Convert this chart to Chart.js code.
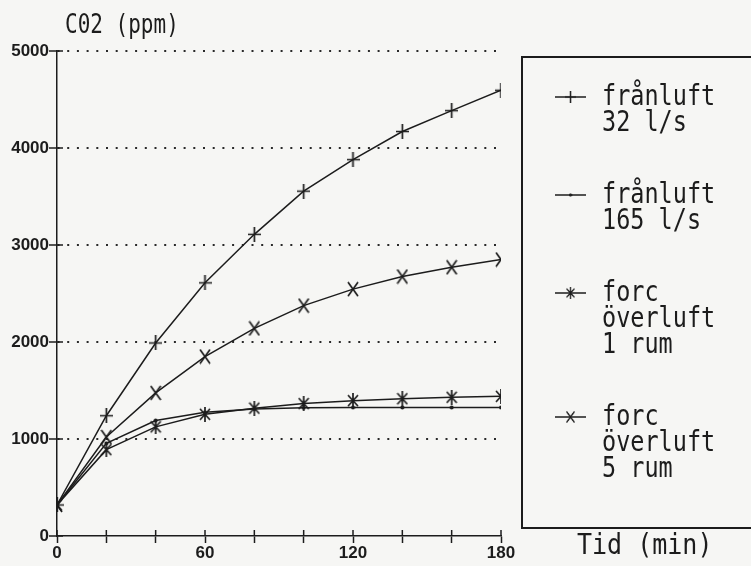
<!DOCTYPE html>
<html>
<head>
<meta charset="utf-8">
<script src="https://cdn.jsdelivr.net/npm/chart.js@4/dist/chart.umd.min.js"></script>
<style>
  html, body { margin: 0; padding: 0; background: #f6f6f4; }
  #wrap { width: 751px; height: 566px; }
</style>
</head>
<body>
<div id="wrap"><canvas id="co2-chart" width="751" height="566"></canvas></div>
<script>
// CO2 concentration over time, four ventilation cases

const minutes = [0, 20, 40, 60, 80, 100, 120, 140, 160, 180];

const franluft32 = [320, 1240, 1990, 2610, 3110, 3555, 3880, 4170, 4385, 4595];
const franluft165 = [320, 955, 1190, 1275, 1310, 1322, 1325, 1325, 1325, 1325];
const forcRum1 = [320, 890, 1125, 1255, 1318, 1365, 1395, 1415, 1430, 1440];
const forcRum5 = [320, 1020, 1475, 1850, 2140, 2375, 2545, 2675, 2770, 2850];

const seriesLabels = [
    ['frånluft', '32 l/s'],
    ['frånluft', '165 l/s'],
    ['forc', 'överluft', '1 rum'],
    ['forc', 'överluft', '5 rum']
];

const yTicks = [0, 1000, 2000, 3000, 4000, 5000];
const xLabelTicks = [0, 60, 120, 180];

const INK = '#1c1c1c';
const MONO = '"DejaVu Sans Mono", monospace';

// small marker glyphs drawn once on canvases
function makeMarker(w, h, drawFn) {
    const c = document.createElement('canvas');
    c.width = w; c.height = h;
    const g = c.getContext('2d');
    g.strokeStyle = INK;
    g.lineWidth = 1.7;
    g.beginPath();
    drawFn(g, w, h);
    g.stroke();
    return c;
}

const plusMark = makeMarker(13, 15, (g, w, h) => {
    g.moveTo(w / 2, 0); g.lineTo(w / 2, h);
    g.moveTo(0, h / 2); g.lineTo(w, h / 2);
});
const xMark = makeMarker(12, 16, (g, w, h) => {
    g.moveTo(1, 1); g.lineTo(w - 1, h - 1);
    g.moveTo(w - 1, 1); g.lineTo(1, h - 1);
});
const starMark = makeMarker(12, 15, (g, w, h) => {
    g.moveTo(1, 2); g.lineTo(w - 1, h - 2);
    g.moveTo(w - 1, 2); g.lineTo(1, h - 2);
    g.moveTo(w / 2, 0); g.lineTo(w / 2, h);
});
const dotMark = makeMarker(5, 5, (g, w, h) => {
    g.arc(w / 2, h / 2, 1.2, 0, Math.PI * 2);
});

function toPoints(values) {
    return values.map((v, i) => ({ x: minutes[i], y: v }));
}

// text in a tall, narrow plotter style
function tallText(ctx, text, x, y, stretch) {
    ctx.save();
    ctx.translate(x, y);
    ctx.scale(1, stretch);
    ctx.fillText(text, 0, 0);
    ctx.restore();
}

// tick marks that cross the axes, and the legend box + axis captions
const plotterDecor = {
    id: 'plotterDecor',
    afterDraw(chart) {
        const ctx = chart.ctx;
        const xs = chart.scales.x;
        const ys = chart.scales.y;
        const area = chart.chartArea;
        ctx.save();
        ctx.strokeStyle = INK;
        ctx.lineWidth = 1.5;
        ctx.beginPath();
        xs.ticks.forEach(t => {
            const px = xs.getPixelForValue(t.value);
            ctx.moveTo(px, area.bottom);
            ctx.lineTo(px, area.bottom - 6);
        });
        ys.ticks.forEach(t => {
            const py = ys.getPixelForValue(t.value);
            ctx.moveTo(area.left, py);
            ctx.lineTo(area.left + 6, py);
        });
        ctx.stroke();

        // captions
        ctx.fillStyle = INK;
        ctx.textBaseline = 'middle';
        ctx.textAlign = 'left';
        ctx.font = '21px ' + MONO;
        tallText(ctx, 'C02 (ppm)', 65, 26, 1.25);
        ctx.font = '25px ' + MONO;
        tallText(ctx, 'Tid (min)', 577, 547, 1.15);

        // legend box
        ctx.lineWidth = 2;
        ctx.strokeRect(522, 57, 260, 471);

        const marks = [plusMark, dotMark, starMark, xMark];
        let y = 97;
        const lineH = 26;
        ctx.font = '23.5px ' + MONO;
        chart.data.datasets.forEach((ds, i) => {
            ctx.beginPath();
            ctx.lineWidth = 1.5;
            ctx.moveTo(555, y);
            ctx.lineTo(586, y);
            ctx.stroke();
            const m = marks[i];
            const mw = m.width * 0.8, mh = m.height * 0.8;
            ctx.drawImage(m, 570.5 - mw / 2, y - mh / 2, mw, mh);
            ds.label.forEach((line, k) => {
                tallText(ctx, line, 602, y + 1 + k * lineH, 1.2);
            });
            y += (ds.label.length - 1) * lineH + 72;
        });
        ctx.restore();
    }
};

const tickFont = { family: '"Liberation Sans", Arial, sans-serif', size: 17, weight: 'bold' };

const ctx = document.getElementById('co2-chart').getContext('2d');
new Chart(ctx, {
    type: 'line',
    data: {
        datasets: [
            { label: seriesLabels[0], data: toPoints(franluft32), pointStyle: plusMark },
            { label: seriesLabels[1], data: toPoints(franluft165), pointStyle: dotMark },
            { label: seriesLabels[2], data: toPoints(forcRum1), pointStyle: starMark },
            { label: seriesLabels[3], data: toPoints(forcRum5), pointStyle: xMark }
        ].map(ds => Object.assign(ds, {
            borderColor: INK,
            borderWidth: 1.5,
            tension: 0,
            fill: false
        }))
    },
    options: {
        responsive: false,
        animation: false,
        layout: { padding: { top: 51, right: 250, left: 0, bottom: 0 } },
        plugins: {
            legend: { display: false },
            tooltip: { enabled: false }
        },
        scales: {
            x: {
                type: 'linear',
                min: 0,
                max: 180,
                afterBuildTicks: (s) => { s.ticks = minutes.map(v => ({ value: v })); },
                afterFit: (s) => { s.height = 30; },
                border: { color: INK, width: 1.5 },
                grid: { drawOnChartArea: false, tickLength: 7, tickColor: INK, tickWidth: 1.5 },
                ticks: {
                    autoSkip: false,
                    maxRotation: 0,
                    padding: 0,
                    color: INK,
                    font: tickFont,
                    callback: (v) => xLabelTicks.includes(v) ? String(v) : ''
                }
            },
            y: {
                min: 0,
                max: 5000,
                afterBuildTicks: (s) => { s.ticks = yTicks.map(v => ({ value: v })); },
                afterFit: (s) => { s.width = 57; },
                border: { color: INK, width: 1.5, dash: [2, 7.7] },
                grid: {
                    color: (c) => c.tick && c.tick.value === 0 ? 'rgba(0,0,0,0)' : '#2a2a2a',
                    lineWidth: 2,
                    tickLength: 8,
                    tickColor: INK,
                    tickWidth: 1.5,
                    tickBorderDash: []
                },
                ticks: {
                    padding: 0,
                    color: INK,
                    font: tickFont,
                    callback: (v) => String(v)
                }
            }
        }
    },
    plugins: [plotterDecor]
});
</script>
</body>
</html>
